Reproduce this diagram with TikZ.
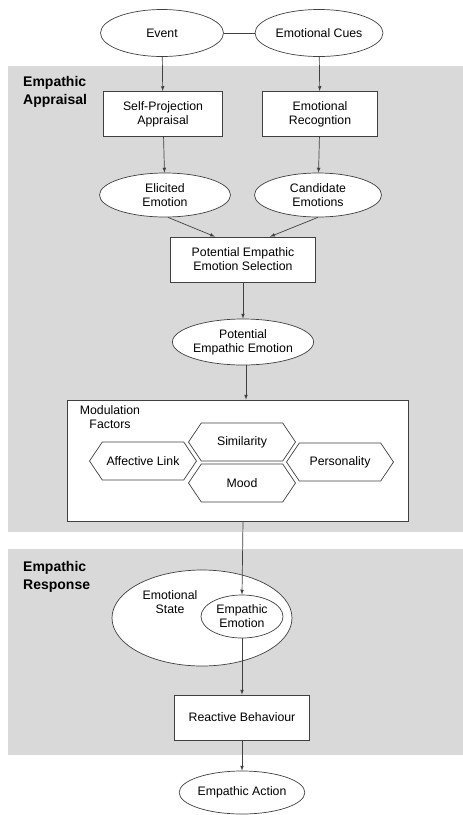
\documentclass[tikz,border=0pt]{standalone}
\usepackage{fontspec}
\setmainfont{Liberation Sans}
\usetikzlibrary{shapes.geometric,shapes.symbols}

\begin{document}
\begin{tikzpicture}[auto, x=1pt, y=-1pt,
  font=\fontsize{12.3}{14}\selectfont,
  every node/.style={align=center, inner sep=1pt},
  line/.style={draw=black!75, line width=0.7pt},
  oval/.style={line, fill=white, shape = ellipse, inner sep=0pt},
  box/.style={line, fill=white, shape = rectangle},
  hexa/.style={line, fill=white, shape = signal, signal to=west and east,
    signal pointer angle=112, minimum width=107pt, minimum height=38pt, inner sep=0pt},
  band/.style={fill=black!15},
  bandlabel/.style={anchor=west, align=left, font=\fontsize{14}{18}\selectfont\bfseries},
  flow/.style={line, ->, >=latex}]

\useasboundingbox (0,0) rectangle (463,815);

% gray bands
\fill[band] (8,66) rectangle (463,532);
\fill[band] (8,549) rectangle (463,755);
\node[bandlabel] (appraisal) at (22,91.5) {Empathic\\Appraisal};
\node[bandlabel] (response) at (22,577) {Empathic\\Response};

\node[oval, minimum width=123pt, minimum height=47pt] (event) at (162,33) {Event};
\node[oval, minimum width=128pt, minimum height=47pt] (cues) at (319,33) {Emotional Cues};

\node[box, minimum width=119pt, minimum height=45pt] (projection) at (163,114) {Self-Projection\\Appraisal};
\node[box, minimum width=115pt, minimum height=45pt] (recognition) at (320,114) {Emotional\\Recogntion};

\node[oval, minimum width=131pt, minimum height=44pt] (elicited) at (165,195) {Elicited\\Emotion};
\node[oval, minimum width=127pt, minimum height=44pt] (candidate) at (318,195) {Candidate\\Emotions};

\node[box, minimum width=145pt, minimum height=45pt] (selection) at (243,259.5) {Potential Empathic\\Emotion Selection};
\node[oval, minimum width=130pt, minimum height=46pt] (potential) at (243,342) {Potential\\Empathic Emotion};

\node[box, minimum width=341pt, minimum height=121pt] (modulation) at (237.5,460.5) {};
\node (modlabel) at (110,417) {Modulation\\Factors};
\node[hexa] (similarity) at (242,442) {Similarity};
\node[hexa] (mood) at (242,483) {Mood};
\node[hexa] (affective) at (143,461) {Affective Link};
\node[hexa] (personality) at (340,462) {Personality};

\node[oval, minimum width=180pt, minimum height=96pt] (state) at (202,618) {};
\node (statelabel) at (170,602) {Emotional\\State};
\node[oval, minimum width=82pt, minimum height=43pt] (empathic) at (242,616.5) {Empathic\\Emotion};

\node[box, minimum width=135pt, minimum height=45pt] (reactive) at (242,717.5) {Reactive Behaviour};
\node[oval, minimum width=122pt, minimum height=43pt] (action) at (242,792.5) {Empathic Action};

\draw[line] (event) -- (cues);
\draw[flow] (event) -- (projection);
\draw[flow] (cues) -- (recognition);
\draw[flow] (projection) -- (elicited);
\draw[flow] (recognition) -- (candidate);
\draw[flow] ([xshift=3pt]elicited.south) -- ([xshift=-28pt]selection.north);
\draw[flow] (candidate.south) -- ([xshift=27pt]selection.north);
\draw[flow] (selection) -- (potential);
\draw[flow] ([xshift=3pt]potential.south) -- ([xshift=8.5pt]modulation.north);
\draw[flow] ([xshift=5.5pt]modulation.south) -- (empathic.north);
\draw[flow] (empathic) -- (reactive);
\draw[flow] (reactive) -- (action);

\end{tikzpicture}
\end{document}
